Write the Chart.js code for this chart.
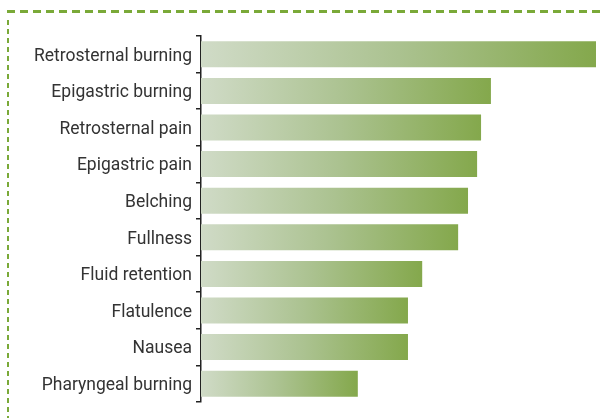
<!DOCTYPE html>
<html>
<head>
<meta charset="utf-8">
<script src="https://cdn.jsdelivr.net/npm/chart.js@4/dist/chart.umd.min.js"></script>
<style>
  html, body { margin: 0; padding: 0; background: #fff; }
  #wrap { position: relative; width: 605px; height: 418px; }
</style>
</head>
<body>
<div id="wrap"><canvas id="chart" width="605" height="418"></canvas></div>
<script>
// Chart data
const symptoms = [
    'Retrosternal burning',
    'Epigastric burning',
    'Retrosternal pain',
    'Epigastric pain',
    'Belching',
    'Fullness',
    'Fluid retention',
    'Flatulence',
    'Nausea',
    'Pharyngeal burning'
];
const frequency = [100, 73.4, 70.9, 69.9, 67.6, 65.1, 56, 52.4, 52.4, 39.7];
const axisMin = 0;
const axisMax = 100;

// Gradient that runs along each bar on its own
function barGradient(context) {
    const chart = context.chart;
    const xScale = chart.scales.x;
    if (!xScale || context.raw === undefined) return '#8aab55';
    const x0 = xScale.getPixelForValue(0);
    const x1 = xScale.getPixelForValue(context.raw);
    if (!isFinite(x0) || !isFinite(x1) || x1 <= x0) return '#8aab55';
    const g = chart.ctx.createLinearGradient(x0, 0, x1, 0);
    g.addColorStop(0, '#d0dbc7');
    g.addColorStop(0.5, '#abc290');
    g.addColorStop(1, '#84a84c');
    return g;
}

// Dashed frame round the figure (top and left edges show)
const dashedFrame = {
    id: 'dashedFrame',
    beforeDraw(chart) {
        const ctx = chart.ctx;
        ctx.save();
        ctx.strokeStyle = '#7aa938';
        ctx.lineWidth = 3;
        ctx.setLineDash([8, 5]);
        ctx.beginPath();
        ctx.moveTo(7, 11.5);
        ctx.lineTo(610, 11.5);
        ctx.stroke();
        ctx.setLineDash([5, 4]);
        ctx.lineWidth = 2;
        ctx.beginPath();
        ctx.moveTo(8, 20);
        ctx.lineTo(8, 418);
        ctx.stroke();
        ctx.restore();
    }
};

new Chart(document.getElementById('chart'), {
    type: 'bar',
    data: {
        labels: symptoms,
        datasets: [{
            data: frequency,
            backgroundColor: barGradient,
            borderWidth: 0,
            barPercentage: 0.71,
            categoryPercentage: 1
        }]
    },
    options: {
        indexAxis: 'y',
        responsive: false,
        animation: false,
        layout: { padding: { top: 36, right: 9, bottom: 16, left: 0 } },
        plugins: {
            legend: { display: false },
            tooltip: { enabled: false }
        },
        scales: {
            x: {
                display: false,
                min: axisMin,
                max: axisMax
            },
            y: {
                afterFit(scale) { scale.width = 201; },
                border: { display: true, color: '#222', width: 1.5 },
                grid: {
                    offset: true,
                    drawOnChartArea: false,
                    drawTicks: true,
                    tickLength: 5,
                    color: '#222',
                    lineWidth: 1.5
                },
                ticks: {
                    padding: 4,
                    labelOffset: 2,
                    color: '#333',
                    font: { family: 'Roboto', size: 17.5 }
                }
            }
        }
    },
    plugins: [dashedFrame]
});
</script>
</body>
</html>
